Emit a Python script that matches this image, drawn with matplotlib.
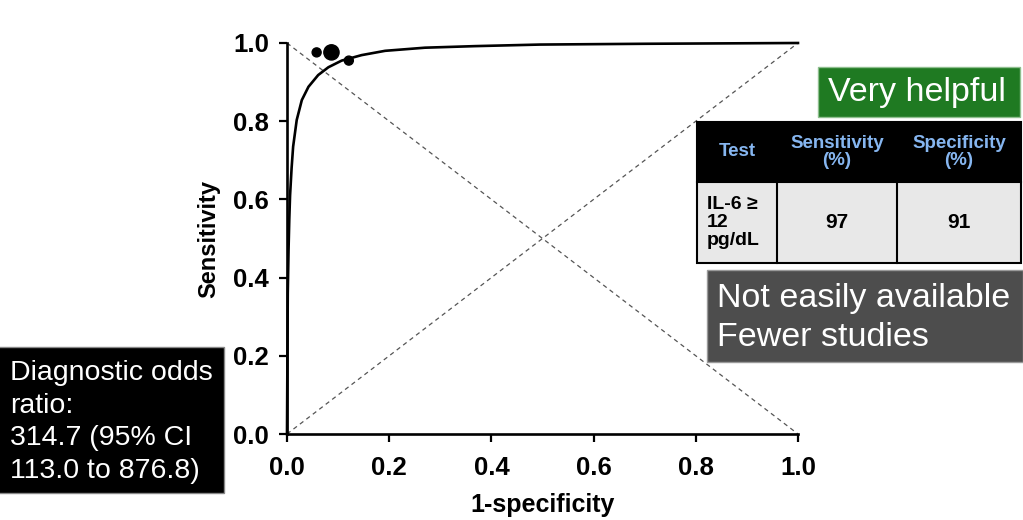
import matplotlib.pyplot as plt
from matplotlib.patches import Rectangle

plt.rcParams['font.family'] = ['Liberation Sans', 'DejaVu Sans']

# SROC curve (1-specificity, sensitivity)
curve_fpr = [0.0, 0.0015, 0.003, 0.0045, 0.006, 0.009, 0.012, 0.019, 0.029, 0.042,
             0.061, 0.081, 0.107, 0.146, 0.192, 0.27, 0.368, 0.495, 0.7, 1.0]
curve_sens = [0.0, 0.36, 0.47, 0.55, 0.61, 0.68, 0.735, 0.803, 0.854, 0.888,
              0.918, 0.938, 0.955, 0.969, 0.980, 0.988, 0.992, 0.996, 0.998, 1.0]

# individual studies
study_fpr = [0.058, 0.087, 0.121]
study_sens = [0.976, 0.976, 0.955]
study_size = [42, 120, 42]

ticks = [0.0, 0.2, 0.4, 0.6, 0.8, 1.0]
tick_labels = ['0.0', '0.2', '0.4', '0.6', '0.8', '1.0']

table_header = ['Test', 'Sensitivity\n(%)', 'Specificity\n(%)']
table_row = ['IL-6 ≥\n12\npg/dL', '97', '91']

W, H = 1023, 520
fig = plt.figure(figsize=(W / 100, H / 100), dpi=100)
ax = fig.add_axes([287 / W, 1 - 434 / H, 511 / W, 391 / H])

ax.plot([0, 1], [1, 0], ls=(0, (3.5, 3)), color='#555555', lw=0.9)
ax.plot([0, 1], [0, 1], ls=(0, (3.5, 3)), color='#555555', lw=0.9)
ax.plot(curve_fpr, curve_sens, color='black', lw=1.9, clip_on=False, zorder=3)
ax.scatter(study_fpr, study_sens, s=study_size, color='black', clip_on=False, zorder=4)

ax.set_xlim(0, 1)
ax.set_ylim(0, 1)
ax.set_xticks(ticks)
ax.set_yticks(ticks)
ax.set_xticklabels(tick_labels, fontsize=18.5, fontweight='bold')
ax.set_yticklabels(tick_labels, fontsize=18.5, fontweight='bold')
ax.tick_params(axis='both', direction='out', length=6, width=1.6)
ax.tick_params(axis='x', pad=10)
ax.tick_params(axis='y', pad=7)
for side in ['top', 'right']:
    ax.spines[side].set_visible(False)
for side in ['left', 'bottom']:
    ax.spines[side].set_linewidth(1.9)
ax.set_xlabel('1-specificity', fontsize=18, fontweight='bold', labelpad=9)
ax.set_ylabel('Sensitivity', fontsize=17, fontweight='bold', labelpad=9)

# overlay in pixel coordinates for the slide boxes
ov = fig.add_axes([0, 0, 1, 1])
ov.set_xlim(0, W)
ov.set_ylim(H, 0)
ov.axis('off')

# green box
ov.add_patch(Rectangle((818, 67), 202, 50, facecolor='#1f7a22', edgecolor='#8fbf8f', lw=1))
ov.text(917, 93, 'Very helpful', color='white', fontsize=24.5, ha='center', va='center')

# table
col_x = [697, 777, 897, 1021]
y_top, y_mid, y_bot = 122, 182, 263
ov.add_patch(Rectangle((697, y_top), 324, y_mid - y_top, facecolor='black', edgecolor='black', lw=1.5))
ov.add_patch(Rectangle((697, y_mid), 324, y_bot - y_mid, facecolor='#e8e8e8', edgecolor='black', lw=1.5))
for cx in col_x[1:3]:
    ov.plot([cx, cx], [y_mid, y_bot], color='black', lw=1.5)
for i in range(3):
    xc = (col_x[i] + col_x[i + 1]) / 2
    ov.text(xc, (y_top + y_mid) / 2, table_header[i], color='#86b6f0', fontsize=13.5,
            fontweight='heavy', ha='center', va='center', linespacing=1.0)
ov.text(707, (y_mid + y_bot) / 2, table_row[0], color='black', fontsize=14,
        fontweight='bold', ha='left', va='center', linespacing=1.05)
for i in (1, 2):
    xc = (col_x[i] + col_x[i + 1]) / 2
    ov.text(xc, (y_mid + y_bot) / 2, table_row[i], color='black', fontsize=15,
            fontweight='bold', ha='center', va='center')

# gray box
ov.add_patch(Rectangle((707, 270), 316, 92, facecolor='#4d4d4d', edgecolor='#9a9a9a', lw=1))
ov.text(717, 318, 'Not easily available\nFewer studies', color='white', fontsize=24.5,
        ha='left', va='center', linespacing=1.36)

# black box
ov.add_patch(Rectangle((-2, 347), 226, 146, facecolor='black', edgecolor='#888888', lw=1))
ov.text(10, 422, 'Diagnostic odds\nratio:\n314.7 (95% CI\n113.0 to 876.8)', color='white',
        fontsize=20.5, ha='left', va='center', linespacing=1.32)

fig.savefig('out.png', dpi=100)
